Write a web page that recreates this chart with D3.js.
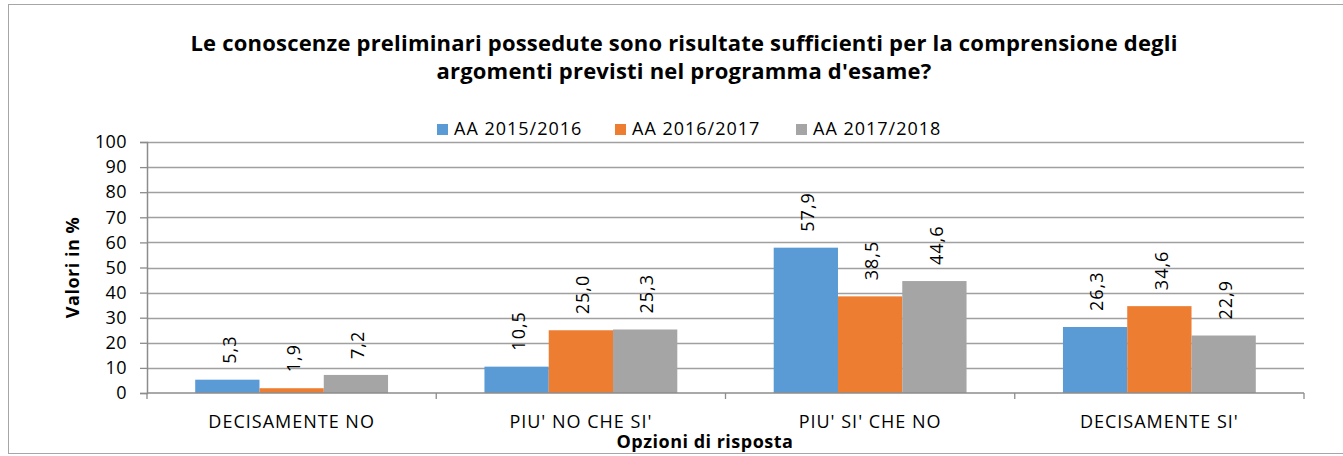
<!DOCTYPE html>
<html>
<head>
<meta charset="utf-8">
<script src="https://cdn.jsdelivr.net/npm/d3@7"></script>
<style>
  body { margin: 0; background: #fff; }
  text { font-family: "Open Sans", Lato, sans-serif; fill: #000; }
</style>
</head>
<body>
<div id="chart"></div>
<script>
// chart data
var categories = ["DECISAMENTE NO", "PIU' NO CHE SI'", "PIU' SI' CHE NO", "DECISAMENTE SI'"];
var seriesNames = ["AA 2015/2016", "AA 2016/2017", "AA 2017/2018"];
var aa1516 = [5.3, 10.5, 57.9, 26.3];
var aa1617 = [1.9, 25.0, 38.5, 34.6];
var aa1718 = [7.2, 25.3, 44.6, 22.9];
var yTicks = [0, 10, 20, 30, 40, 50, 60, 70, 80, 90, 100];
var titleLines = ["Le conoscenze preliminari possedute sono risultate sufficienti per la comprensione degli",
                  "argomenti previsti nel programma d'esame?"];

var colors = ["#5B9BD5", "#ED7D31", "#A5A5A5"];
var seriesValues = [aa1516, aa1617, aa1718];

var width = 1343, height = 456;
var plot = {left: 147, right: 1304, top: 142, bottom: 393};
var fontFam = "'Open Sans', Lato, sans-serif";

var svg = d3.select("#chart")
    .append("svg")
    .attr("width", width)
    .attr("height", height);

// outer frame
svg.append("rect")
    .attr("x", 8.5)
    .attr("y", 4.5)
    .attr("width", width + 10)
    .attr("height", 449)
    .attr("fill", "none")
    .attr("stroke", "#a6a6a6")
    .attr("stroke-width", 1);

var x0 = d3.scaleBand()
    .domain(categories)
    .range([plot.left, plot.right])
    .paddingInner(0)
    .paddingOuter(0);

var x1 = d3.scaleBand()
    .domain(d3.range(seriesNames.length))
    .range([0, x0.bandwidth()])
    .paddingInner(0)
    .paddingOuter(0.75);

var y = d3.scaleLinear()
    .domain([0, 100])
    .range([plot.bottom, plot.top]);

// gridlines
svg.append("g")
    .selectAll("line")
    .data(yTicks.filter(function (d) { return d > 0; }))
    .enter()
    .append("line")
    .attr("x1", plot.left)
    .attr("x2", plot.right)
    .attr("y1", function (d) { return Math.round(y(d)) + 0.5; })
    .attr("y2", function (d) { return Math.round(y(d)) + 0.5; })
    .attr("stroke", "#a0a0a0")
    .attr("stroke-width", 1.3);

// y axis
var yAxis = svg.append("g")
    .attr("transform", "translate(" + plot.left + ",0)")
    .call(d3.axisLeft(y).tickValues(yTicks).tickSize(7).tickPadding(13).tickFormat(d3.format("d")));
yAxis.select(".domain").attr("stroke", "#8c8c8c").attr("stroke-width", 1.5);
yAxis.selectAll(".tick line").attr("stroke", "#8c8c8c").attr("stroke-width", 1.3);
yAxis.selectAll(".tick text")
    .attr("font-family", fontFam)
    .attr("font-size", "18px")
    .attr("letter-spacing", "0.4px")
    .attr("fill", "#000");

// bars
var groups = svg.append("g")
    .selectAll("g")
    .data(categories)
    .enter()
    .append("g")
    .attr("transform", function (d) { return "translate(" + x0(d) + ",0)"; });

groups.selectAll("rect")
    .data(function (d, i) {
        return seriesValues.map(function (s, j) { return {s: j, v: s[i]}; });
    })
    .enter()
    .append("rect")
    .attr("x", function (d) { return x1(d.s); })
    .attr("y", function (d) { return y(d.v); })
    .attr("width", x1.bandwidth())
    .attr("height", function (d) { return y(0) - y(d.v); })
    .attr("fill", function (d) { return colors[d.s]; });

// data labels, rotated
groups.selectAll(".lbl")
    .data(function (d, i) {
        return seriesValues.map(function (s, j) { return {s: j, v: s[i]}; });
    })
    .enter()
    .append("text")
    .attr("class", "lbl")
    .attr("transform", function (d) {
        return "translate(" + (x1(d.s) + x1.bandwidth() / 2 + 2) + "," + (y(d.v) - 16) + ") rotate(-90)";
    })
    .attr("dy", "0.35em")
    .attr("font-size", "18px")
    .attr("letter-spacing", "1px")
    .attr("text-anchor", "start")
    .text(function (d) { return d3.format(".1f")(d.v).replace(".", ","); });

// x axis
var xAxis = svg.append("g")
    .attr("transform", "translate(0," + plot.bottom + ")");
xAxis.append("line")
    .attr("x1", plot.left)
    .attr("x2", plot.right)
    .attr("stroke", "#8c8c8c")
    .attr("stroke-width", 1.5);
xAxis.selectAll(".xt")
    .data(categories.concat(["end"]))
    .enter()
    .append("line")
    .attr("class", "xt")
    .attr("x1", function (d, i) { return plot.left + i * x0.step(); })
    .attr("x2", function (d, i) { return plot.left + i * x0.step(); })
    .attr("y1", 0)
    .attr("y2", 6)
    .attr("stroke", "#8c8c8c")
    .attr("stroke-width", 1.3);
xAxis.selectAll(".xl")
    .data(categories)
    .enter()
    .append("text")
    .attr("class", "xl")
    .attr("x", function (d) { return x0(d) + x0.bandwidth() / 2; })
    .attr("y", 35)
    .attr("text-anchor", "middle")
    .attr("font-size", "18px")
    .attr("letter-spacing", "1px")
    .text(function (d) { return d; });

// axis titles
svg.append("text")
    .attr("x", 705)
    .attr("y", 448)
    .attr("text-anchor", "middle")
    .attr("font-size", "18px")
    .attr("letter-spacing", "0.5px")
    .attr("font-weight", 700)
    .text("Opzioni di risposta");

svg.append("text")
    .attr("transform", "translate(79," + ((plot.top + plot.bottom) / 2) + ") rotate(-90)")
    .attr("text-anchor", "middle")
    .attr("font-size", "18px")
    .attr("letter-spacing", "0.5px")
    .attr("font-weight", 700)
    .text("Valori in %");

// title
svg.append("g")
    .selectAll("text")
    .data(titleLines)
    .enter()
    .append("text")
    .attr("x", 684)
    .attr("y", function (d, i) { return 51 + i * 28; })
    .attr("text-anchor", "middle")
    .attr("font-size", "22px")
    .attr("letter-spacing", "0.2px")
    .attr("font-weight", 700)
    .text(function (d) { return d; });

// legend
var legendX = [437, 615, 796];
var legend = svg.append("g")
    .selectAll("g")
    .data(seriesNames)
    .enter()
    .append("g")
    .attr("transform", function (d, i) { return "translate(" + legendX[i] + ",124)"; });
legend.append("rect")
    .attr("width", 11)
    .attr("height", 11)
    .attr("fill", function (d, i) { return colors[i]; });
legend.append("text")
    .attr("x", 17)
    .attr("y", 11)
    .attr("font-size", "18px")
    .attr("letter-spacing", "1px")
    .text(function (d) { return d; });
</script>
</body>
</html>
